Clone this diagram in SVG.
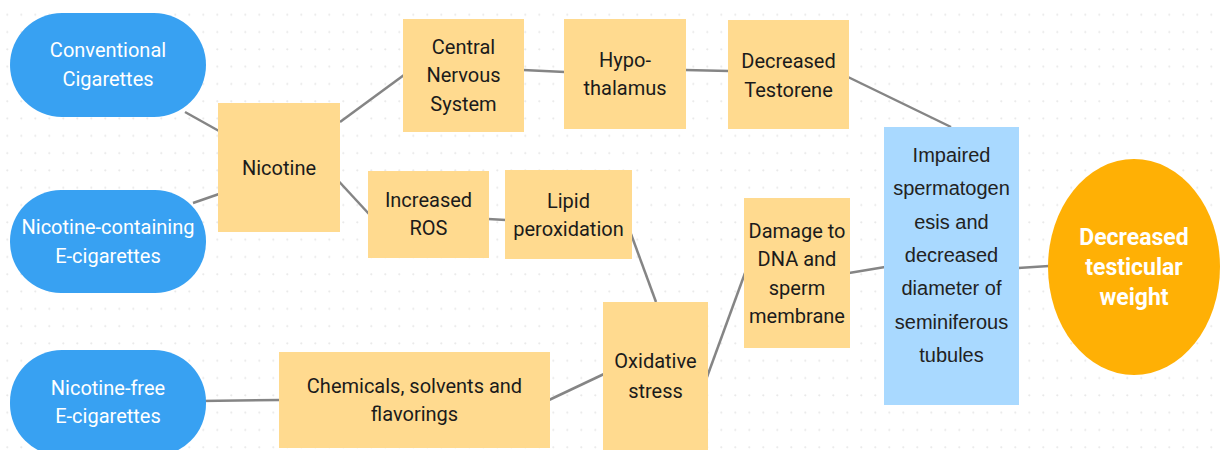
<svg xmlns="http://www.w3.org/2000/svg" width="1220" height="450" viewBox="0 0 1220 450">
<defs>
<pattern id="dots" x="0" y="0" width="14" height="17.3" patternUnits="userSpaceOnUse">
<circle cx="7.3" cy="14.7" r="1.1" fill="#e9e9e9"/>
</pattern>
<style>
.pill{fill:#38a1f2;}
.box{fill:#ffda8f;}
.blue{fill:#a9d9ff;}
.oval{fill:#ffb005;}
.t{font-family:Roboto,"Liberation Sans",sans-serif;font-size:20px;fill:#1b1b1b;text-anchor:middle;}
.tw{font-family:Roboto,"Liberation Sans",sans-serif;font-size:20px;fill:#ffffff;text-anchor:middle;}
.ta{font-family:"Liberation Sans",Arial,sans-serif;font-size:20px;fill:#222222;text-anchor:middle;}
.tb{font-family:Roboto,"Liberation Sans",sans-serif;font-size:23px;font-weight:bold;fill:#ffffff;text-anchor:middle;}
.c line{stroke:#858585;stroke-width:2.5;}
</style>
</defs>
<rect width="1220" height="450" fill="#ffffff"/>
<rect width="1220" height="450" fill="url(#dots)"/>
<g class="c" id="connectors">
<line x1="185" y1="112" x2="219" y2="131"/>
<line x1="193" y1="203" x2="219" y2="194"/>
<line x1="340" y1="122" x2="404" y2="75"/>
<line x1="333" y1="175" x2="369" y2="214"/>
<line x1="523" y1="70" x2="565" y2="72"/>
<line x1="685" y1="70" x2="729" y2="71"/>
<line x1="848" y1="77" x2="951" y2="127"/>
<line x1="488" y1="219" x2="506" y2="220"/>
<line x1="631" y1="234" x2="656" y2="302"/>
<line x1="200" y1="401" x2="280" y2="400"/>
<line x1="549" y1="400" x2="604" y2="374"/>
<line x1="707" y1="377" x2="745" y2="273"/>
<line x1="849" y1="273" x2="885" y2="267"/>
<line x1="1018" y1="268" x2="1049" y2="266"/>
</g>
<g id="conventional">
<rect class="pill" x="10" y="13" width="196" height="104" rx="52"/>
<text class="tw" x="108" y="57">Conventional</text>
<text class="tw" x="108" y="86">Cigarettes</text>
</g>
<g id="nicotine-ecig">
<rect class="pill" x="10" y="190" width="196" height="103" rx="51"/>
<text class="tw" x="108" y="234">Nicotine-containing</text>
<text class="tw" x="108" y="263">E-cigarettes</text>
</g>
<g id="nicotine-free">
<rect class="pill" x="10" y="350" width="196" height="106" rx="52"/>
<text class="tw" x="108" y="395">Nicotine-free</text>
<text class="tw" x="108" y="423">E-cigarettes</text>
</g>
<g id="nicotine">
<rect class="box" x="218" y="103" width="122" height="129"/>
<text class="t" x="279" y="175">Nicotine</text>
</g>
<g id="cns">
<rect class="box" x="403" y="19" width="121" height="113"/>
<text class="t" x="463.5" y="54">Central</text>
<text class="t" x="463.5" y="82">Nervous</text>
<text class="t" x="463.5" y="111">System</text>
</g>
<g id="hypothalamus">
<rect class="box" x="564" y="19" width="122" height="110"/>
<text class="t" x="625" y="67">Hypo-</text>
<text class="t" x="625" y="95">thalamus</text>
</g>
<g id="testorene">
<rect class="box" x="728" y="20" width="121" height="109"/>
<text class="t" x="788.5" y="68">Decreased</text>
<text class="t" x="788.5" y="97">Testorene</text>
</g>
<g id="ros">
<rect class="box" x="368" y="171" width="121" height="87"/>
<text class="t" x="428.5" y="207">Increased</text>
<text class="t" x="428.5" y="235">ROS</text>
</g>
<g id="lipid">
<rect class="box" x="505" y="170" width="127" height="89"/>
<text class="t" x="568.5" y="208">Lipid</text>
<text class="t" x="568.5" y="236">peroxidation</text>
</g>
<g id="damage">
<rect class="box" x="744" y="198" width="106" height="150"/>
<text class="t" x="797" y="238">Damage to</text>
<text class="t" x="797" y="266">DNA and</text>
<text class="t" x="797" y="295">sperm</text>
<text class="t" x="797" y="323">membrane</text>
</g>
<g id="oxidative">
<rect class="box" x="603" y="302" width="105" height="150"/>
<text class="t" x="655.5" y="368">Oxidative</text>
<text class="t" x="655.5" y="398">stress</text>
</g>
<g id="chemicals">
<rect class="box" x="279" y="352" width="271" height="96"/>
<text class="t" x="414.5" y="393">Chemicals, solvents and</text>
<text class="t" x="414.5" y="421">flavorings</text>
</g>
<g id="impaired">
<rect class="blue" x="884" y="127" width="135" height="278"/>
<text class="ta" x="951.5" y="162">Impaired</text>
<text class="ta" x="951.5" y="195">spermatogen</text>
<text class="ta" x="951.5" y="229">esis and</text>
<text class="ta" x="951.5" y="262">decreased</text>
<text class="ta" x="951.5" y="295">diameter of</text>
<text class="ta" x="951.5" y="329">seminiferous</text>
<text class="ta" x="951.5" y="362">tubules</text>
</g>
<g id="testicular">
<ellipse class="oval" cx="1134" cy="267" rx="86" ry="108"/>
<text class="tb" x="1134" y="245">Decreased</text>
<text class="tb" x="1134" y="275">testicular</text>
<text class="tb" x="1134" y="305">weight</text>
</g>
</svg>
